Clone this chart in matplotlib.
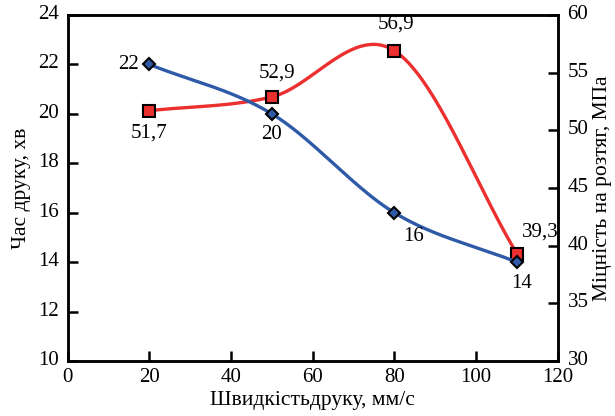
import numpy as np
import matplotlib
matplotlib.use("Agg")
import matplotlib.pyplot as plt
import matplotlib.transforms as mtransforms

plt.rcParams['font.family'] = ['Liberation Serif', 'DejaVu Serif']

speed = [20, 50, 80, 110]
print_time = [22, 20, 16, 14]
strength = [51.7, 52.9, 56.9, 39.3]
time_labels = ["22", "20", "16", "14"]
strength_labels = ["51,7", "52,9", "56,9", "39,3"]

BLUE = "#2f5aa8"
RED = "#ec2f2f"
FS = 15
LFS = 15.5


def smooth(xs, ys, n=60):
    """Catmull-Rom spline through the given points."""
    p = np.column_stack([xs, ys]).astype(float)
    p = np.vstack([2 * p[0] - p[1], p, 2 * p[-1] - p[-2]])
    out = []
    t = np.linspace(0, 1, n)[:, None]
    for i in range(1, len(p) - 2):
        p0, p1, p2, p3 = p[i - 1], p[i], p[i + 1], p[i + 2]
        seg = 0.5 * ((2 * p1) + (-p0 + p2) * t + (2 * p0 - 5 * p1 + 4 * p2 - p3) * t ** 2
                     + (-p0 + 3 * p1 - 3 * p2 + p3) * t ** 3)
        out.append(seg if i == 1 else seg[1:])
    s = np.vstack(out)
    return s[:, 0], s[:, 1]


fig = plt.figure(figsize=(6.15, 4.16), dpi=100)
ax = fig.add_axes([0.110, 0.132, 0.797, 0.832])
ax2 = ax.twinx()
ax.set_zorder(ax2.get_zorder() + 1)
ax.patch.set_visible(False)

bx, by = smooth(speed, print_time)
ax.plot(bx, by, color=BLUE, lw=2.4, zorder=2)
ax.plot(speed, print_time, ls='none', marker='D', ms=6.5, mfc=BLUE, mec='black', mew=1.5, zorder=3)

rx, ry = smooth(speed, strength)
ax2.plot(rx, ry, color=RED, lw=2.4, zorder=2)
ax2.plot(speed, strength, ls='none', marker='s', ms=8, mfc=RED, mec='black', mew=1.5, zorder=3)

ax.set_xlim(0, 120)
ax.set_ylim(10, 24)
ax2.set_ylim(30, 60)
ax.set_xticks(range(0, 121, 20))
ax.set_yticks(range(10, 25, 2))
ax2.set_yticks(range(30, 61, 5))

for a in (ax, ax2):
    for sp in a.spines.values():
        sp.set_linewidth(1.8)
    a.tick_params(direction='in', length=7, width=1.8, labelsize=FS)
ax.tick_params(axis='x', pad=5)
ax.tick_params(axis='y', pad=6)
ax2.tick_params(axis='y', pad=7)

ax.set_xlabel("Швидкістьдруку, мм/с", fontsize=LFS, labelpad=3)
ax.set_ylabel("Час друку, хв", fontsize=LFS, labelpad=5)
ax2.set_ylabel("Міцність на розтяг, МПа", fontsize=LFS, labelpad=3)

# nudge the vertical-axis tick labels slightly upward
lift = mtransforms.ScaledTranslation(0, 3 / 100, fig.dpi_scale_trans)
for a in (ax, ax2):
    for lbl in a.get_yticklabels():
        lbl.set_transform(lbl.get_transform() + lift)

time_offsets = [(-15, 0), (0, -15), (14, -17), (3, -15)]
for x, y, lab, off in zip(speed, print_time, time_labels, time_offsets):
    ax.annotate(lab, (x, y), xytext=off, textcoords='offset points',
                ha='center', va='center', fontsize=FS)

strength_offsets = [(0, -16), (4, 17), (1, 19), (17, 16)]
for x, y, lab, off in zip(speed, strength, strength_labels, strength_offsets):
    ax2.annotate(lab, (x, y), xytext=off, textcoords='offset points',
                 ha='center', va='center', fontsize=FS)

fig.savefig("out.png", dpi=100)
